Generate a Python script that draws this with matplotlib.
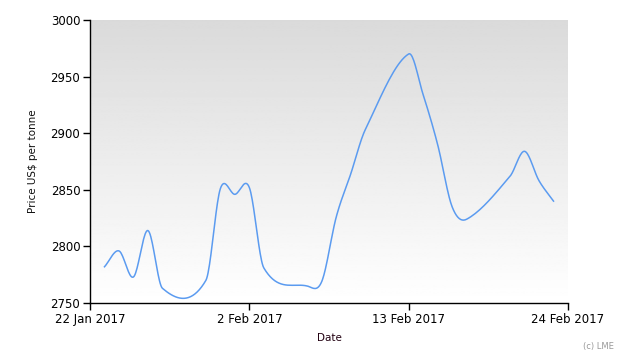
import matplotlib
matplotlib.use("Agg")
import matplotlib.pyplot as plt
import matplotlib.dates as mdates
import numpy as np
import pandas as pd

dates = ["2017-01-23", "2017-01-24", "2017-01-25", "2017-01-26", "2017-01-27",
         "2017-01-30", "2017-01-31", "2017-02-01", "2017-02-02", "2017-02-03",
         "2017-02-06", "2017-02-07", "2017-02-08", "2017-02-09", "2017-02-10",
         "2017-02-13", "2017-02-14", "2017-02-15", "2017-02-16", "2017-02-17",
         "2017-02-20", "2017-02-21", "2017-02-22", "2017-02-23"]
prices = [2782, 2796, 2773, 2814, 2763,
          2770, 2851, 2846, 2852, 2781,
          2765, 2769, 2826, 2864, 2903,
          2970, 2934, 2890, 2835, 2824,
          2862, 2884, 2858, 2840]
tick_dates = ["2017-01-22", "2017-02-02", "2017-02-13", "2017-02-24"]
tick_labels = ["22 Jan 2017", "2 Feb 2017", "13 Feb 2017", "24 Feb 2017"]


def smooth(x, y, n=20):
    # cubic hermite with catmull-rom style tangents
    x = np.asarray(x, float)
    y = np.asarray(y, float)
    m = np.zeros_like(y)
    m[1:-1] = (y[2:] - y[:-2]) / (x[2:] - x[:-2])
    m[0] = (y[1] - y[0]) / (x[1] - x[0])
    m[-1] = (y[-1] - y[-2]) / (x[-1] - x[-2])
    xs, ys = [], []
    for i in range(len(x) - 1):
        h = x[i + 1] - x[i]
        t = np.linspace(0, 1, n, endpoint=False)
        h00 = 2 * t**3 - 3 * t**2 + 1
        h10 = t**3 - 2 * t**2 + t
        h01 = -2 * t**3 + 3 * t**2
        h11 = t**3 - t**2
        xs.append(x[i] + t * h)
        ys.append(h00 * y[i] + h10 * h * m[i] + h01 * y[i + 1] + h11 * h * m[i + 1])
    xs.append([x[-1]])
    ys.append([y[-1]])
    return np.concatenate(xs), np.concatenate(ys)


xd = mdates.date2num(pd.to_datetime(dates))
xs, ys = smooth(xd, prices)
ticks = mdates.date2num(pd.to_datetime(tick_dates))

fig = plt.figure(figsize=(6.3, 3.6), dpi=100)
ax = fig.add_axes([90 / 630, 1 - 303 / 360, 478 / 630, 283 / 360])

x0, x1 = ticks[0], ticks[-1]
grad = np.linspace(0.855, 1.0, 256).reshape(-1, 1)
ax.imshow(grad, cmap="gray", vmin=0, vmax=1, aspect="auto",
          extent=[x0, x1, 2750, 3000], origin="upper", zorder=0)

ax.plot(xs, ys, color="#5b9bf0", lw=1.1, zorder=2)

ax.set_xlim(x0, x1)
ax.set_ylim(2750, 3000)
ax.set_xticks(ticks)
ax.set_xticklabels(tick_labels)
ax.set_yticks([2750, 2800, 2850, 2900, 2950, 3000])
ax.tick_params(direction="out", length=5, width=1, labelsize=8.5, pad=2)
for s in ["top", "right"]:
    ax.spines[s].set_visible(False)
for s in ["left", "bottom"]:
    ax.spines[s].set_linewidth(1)

ax.set_xlabel("Date", fontsize=7.5, color="#220011", labelpad=5)
ax.set_ylabel("Price US$ per tonne", fontsize=7.5, color="#111111", labelpad=9)
fig.text(598 / 630, 1 - 346 / 360, "(c) LME", fontsize=6, color="#999999",
         ha="center", va="center")

fig.savefig("out.png", dpi=100)
